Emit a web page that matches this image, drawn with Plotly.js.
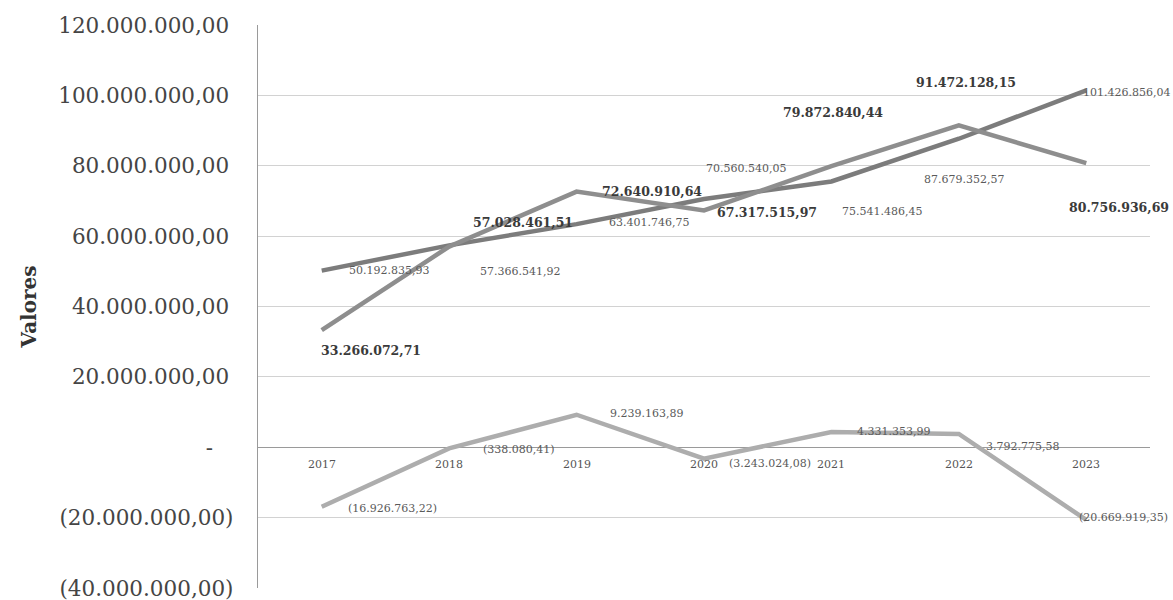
<!DOCTYPE html>
<html>
<head>
<meta charset="utf-8">
<script src="https://cdn.plot.ly/plotly-3.0.1.min.js"></script>
<style>html,body{margin:0;padding:0;background:#fff;}#chart{width:1173px;height:600px;}</style>
</head>
<body>
<div id="chart"></div>
<script>
// ---- data ----
var years = ["2017", "2018", "2019", "2020", "2021", "2022", "2023"];
var seriesA = [33266072.71, 57028461.51, 72640910.64, 67317515.97, 79872840.44, 91472128.15, 80756936.69];
var seriesB = [50192835.93, 57366541.92, 63401746.75, 70560540.05, 75541486.45, 87679352.57, 101426856.04];
var seriesC = [-16926763.22, -338080.41, 9239163.89, -3243024.08, 4331353.99, 3792775.58, -20669919.35];
var tickValues = [120000000, 100000000, 80000000, 60000000, 40000000, 20000000, 0, -20000000, -40000000];
var tickLabels = ["120.000.000,00\u2009", "100.000.000,00\u2009", "80.000.000,00\u2009", "60.000.000,00\u2009",
                  "40.000.000,00\u2009", "20.000.000,00\u2009", "-\u00a0\u00a0\u00a0",
                  "(20.000.000,00)", "(40.000.000,00)"];

// ---- label placement (pixel offsets dx, dy; dy downward) ----
var offA = [[49, 20], [74, -24], [75, 0], [63, 2], [2, -54], [7, -43], [33, 44]];
var offB = [[67, 0], [71, 26], [72, -2], [42, -30], [51, 30], [5, 41], [40, 2]];
var offC = [[71, 2], [70, 1], [70, -1], [66, 5], [62, -1], [64, 13], [37, -2]];

function fmt(v) {
  var neg = v < 0;
  var s = Math.abs(v).toFixed(2);
  var parts = s.split(".");
  var intp = parts[0].replace(/\B(?=(\d{3})+(?!\d))/g, ".");
  var out = intp + "," + parts[1];
  return neg ? "(" + out + ")" : out;
}

var colA = "#8e8e8e", colB = "#7c7c7c", colC = "#adadad";

function line(vals, col) {
  return {
    x: years, y: vals, type: "scatter", mode: "lines",
    line: {color: col, width: 4.5}, hoverinfo: "skip", showlegend: false
  };
}

var annotations = [];
function addLabels(vals, offs, font, bold) {
  vals.forEach(function (v, i) {
    annotations.push({
      x: i, y: v, xref: "x", yref: "y", text: bold ? "<b>" + fmt(v) + "</b>" : fmt(v), showarrow: false,
      xshift: offs[i][0], yshift: -offs[i][1], xanchor: "center", yanchor: "middle",
      font: font
    });
  });
}
addLabels(seriesA, offA, {family: "DejaVu Serif", size: 12.5, color: "#3a3a3a"}, true);
addLabels(seriesB, offB, {family: "DejaVu Serif", size: 11, color: "#5a5a5a"}, false);
addLabels(seriesC, offC, {family: "DejaVu Serif", size: 11, color: "#5a5a5a"}, false);

years.forEach(function (yr, i) {
  annotations.push({
    x: i, y: 0, xref: "x", yref: "y", text: yr, showarrow: false,
    yshift: -17, xanchor: "center", yanchor: "middle",
    font: {family: "DejaVu Serif", size: 11, color: "#555"}
  });
});

var layout = {
  width: 1173, height: 600,
  margin: {l: 258, r: 23, t: 25, b: 12},
  paper_bgcolor: "#ffffff", plot_bgcolor: "#ffffff",
  xaxis: {
    type: "category", range: [-0.5, 6.5], showticklabels: false, ticks: "",
    showgrid: false, zeroline: false, showline: false, fixedrange: true
  },
  yaxis: {
    range: [-40000000, 120000000], tickvals: tickValues, ticktext: tickLabels,
    showgrid: true, gridcolor: "#d2d2d2", gridwidth: 1,
    zeroline: true, zerolinecolor: "#9a9a9a", zerolinewidth: 1.2,
    showline: true, linecolor: "#9a9a9a", linewidth: 1.2, mirror: false,
    ticks: "", ticklabelstandoff: 19, ticklabeloverflow: "allow",
    tickfont: {family: "DejaVu Serif", size: 21.5, color: "#454545"},
    title: {text: "<b>Valores</b>", font: {family: "DejaVu Serif", size: 20, color: "#333"}, standoff: 16}
  },
  annotations: annotations,
  showlegend: false
};

Plotly.newPlot("chart", [line(seriesC, colC), line(seriesB, colB), line(seriesA, colA)], layout,
  {displayModeBar: false, staticPlot: true});
</script>
</body>
</html>
